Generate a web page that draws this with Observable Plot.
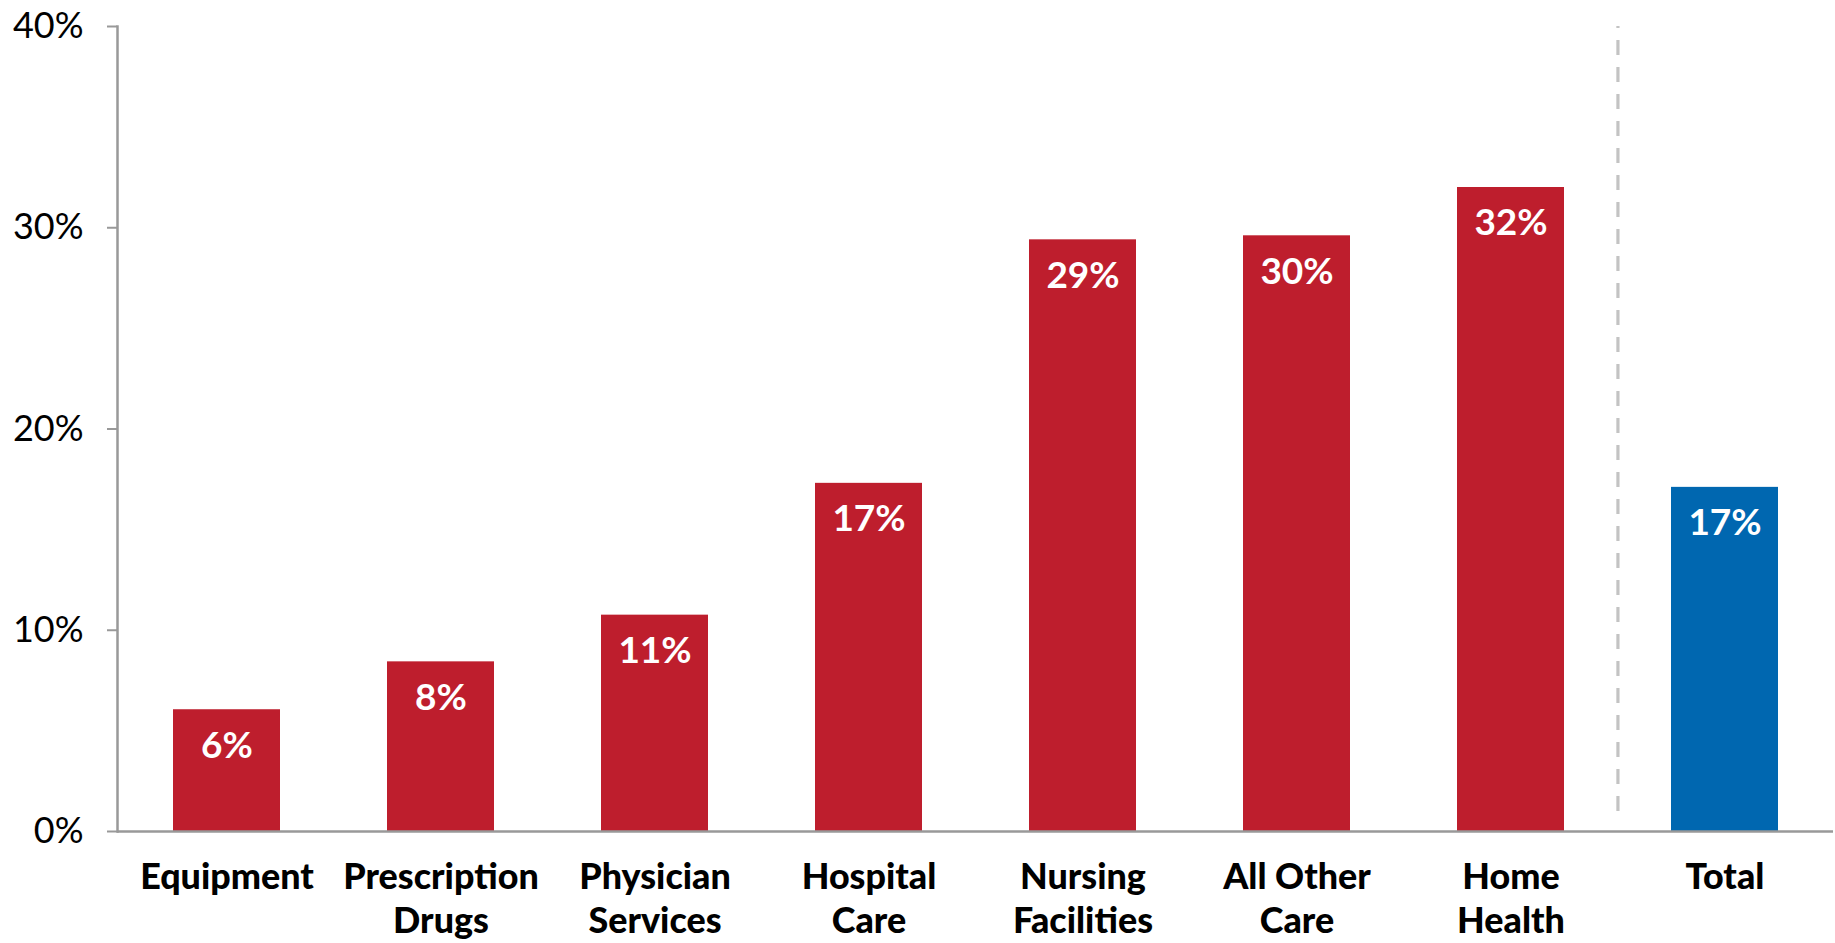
<!DOCTYPE html>
<html>
<head>
<meta charset="utf-8">
<script src="https://cdn.jsdelivr.net/npm/d3@7"></script>
<script src="https://cdn.jsdelivr.net/npm/@observablehq/plot@0.6"></script>
<style>
  html, body { margin: 0; padding: 0; background: #fff; }
  #chart svg { display: block; }
</style>
</head>
<body>
<div id="chart"></div>
<script>
const categories = ["Equipment", "Prescription Drugs", "Physician Services", "Hospital Care", "Nursing Facilities", "All Other Care", "Home Health", "Total"];
const tickLabels = ["Equipment", "Prescription\nDrugs", "Physician\nServices", "Hospital\nCare", "Nursing\nFacilities", "All Other\nCare", "Home\nHealth", "Total"];
const values = [6.05, 8.43, 10.75, 17.3, 29.4, 29.6, 32.0, 17.1];
const valueLabels = ["6%", "8%", "11%", "17%", "29%", "30%", "32%", "17%"];
const yTicks = [0, 10, 20, 30, 40];

const data = categories.map((c, i) => ({category: c, value: values[i], label: valueLabels[i]}));
const labelOf = new Map(categories.map((c, i) => [c, tickLabels[i]]));

const RED = "#BE1E2D";
const BLUE = "#0067B0";
const W = 1835, H = 943;
const mL = 117, mR = 2;
const pIn = 0.5, pOut = 0.257;
const step = (W - mL - mR) / (categories.length - pIn + 2 * pOut);

const chart = Plot.plot({
  width: W,
  height: H,
  marginLeft: mL,
  marginRight: mR,
  marginTop: 26,
  marginBottom: 112,
  style: {fontFamily: "Lato, 'Noto Sans', sans-serif", background: "#fff"},
  x: {domain: categories, paddingInner: pIn, paddingOuter: pOut, align: 0.5},
  y: {domain: [0, 40]},
  marks: [
    Plot.ruleX(["Total"], {x: d => d, dx: -step / 2, y1: 0, y2: 40, insetTop: -20, stroke: "#c3c3c3", strokeWidth: 3.2, strokeDasharray: "15,12"}),
    Plot.barY(data, {x: "category", y: "value", fill: d => d.category === "Total" ? BLUE : RED}),
    Plot.text(data, {x: "category", y: "value", text: "label", dy: 36, fill: "#fff", fontSize: 37, fontWeight: "bold", lineAnchor: "middle"}),
    Plot.ruleY([0], {stroke: "#999", strokeWidth: 2.5}),
    Plot.frame({anchor: "left", stroke: "#999", strokeWidth: 2.5}),
    Plot.axisY({ticks: yTicks, tickFormat: d => d + "%", tickSize: 10, tickPadding: 24, fontSize: 36, stroke: "#999", strokeWidth: 2, fill: "#000", label: null}),
    Plot.axisX({tickSize: 0, tickPadding: 26, tickFormat: d => labelOf.get(d), fontSize: 37, fontWeight: 900, fill: "#000", lineHeight: 1.2, label: null})
  ]
});
// slightly condense the x tick labels (no condensed font installed)
const flat = new Set(tickLabels.map(l => l.replace("\n", "")));
d3.select(chart).selectAll("text").each(function () {
  if (flat.has(this.textContent)) {
    const tr = this.getAttribute("transform") || "";
    this.setAttribute("transform", tr + " scale(0.97,1)");
  }
});
document.getElementById("chart").appendChild(chart);
</script>
</body>
</html>
